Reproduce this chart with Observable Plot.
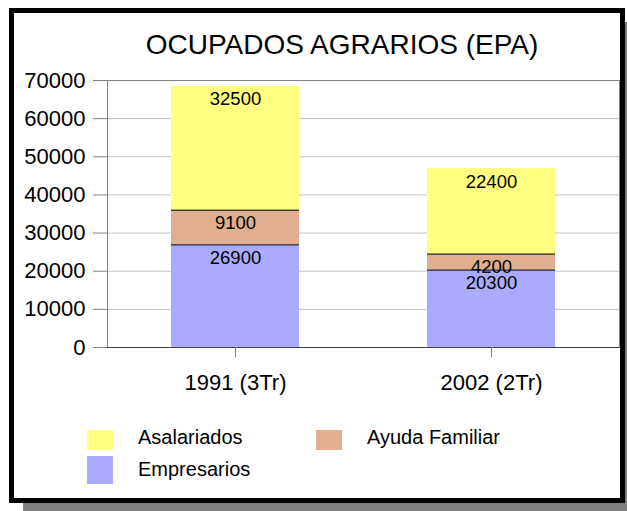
<!DOCTYPE html>
<html>
<head>
<meta charset="utf-8">
<script src="https://cdn.jsdelivr.net/npm/d3@7"></script>
<script src="https://cdn.jsdelivr.net/npm/@observablehq/plot@0.6"></script>
<style>
  html, body { margin: 0; padding: 0; background: #fff; }
  #root { position: relative; width: 627px; height: 511px; overflow: hidden; font-family: "Liberation Sans", Arial, sans-serif; color: #000; }
  .abs { position: absolute; }
  .txt { position: absolute; white-space: nowrap; line-height: 1; }
</style>
</head>
<body>
<div id="root">
  <div class="abs" style="left:23px; top:503px; width:604px; height:8px; background:#808080;"></div>
  <div class="abs" style="left:625px; top:22px; width:2px; height:489px; background:#808080;"></div>
  <div class="abs" style="left:9px; top:8px; width:616px; height:495px; border:5px solid #000; box-sizing:border-box; background:#fff;"></div>
  <div id="title" class="txt" style="left:0; width:684px; text-align:center; top:31px; font-size:28px;"></div>
  <div id="chart" class="abs" style="left:0; top:70px;"></div>
  <div id="legend"></div>
</div>
<script>
const categories = ["1991 (3Tr)", "2002 (2Tr)"];
const series = ["Empresarios", "Ayuda Familiar", "Asalariados"];
const empresarios = [26900, 20300];
const ayudaFamiliar = [9100, 4200];
const asalariados = [32500, 22400];
const yTicks = [0, 10000, 20000, 30000, 40000, 50000, 60000, 70000];
const colors = ["#AAAAFF", "#DFAF8F", "#FFFF80"];
const titleText = "OCUPADOS AGRARIOS (EPA)";

const values = [empresarios, ayudaFamiliar, asalariados];
const data = [];
series.forEach((s, si) => categories.forEach((c, ci) => data.push({cat: c, series: s, value: values[si][ci]})));

document.getElementById("title").textContent = titleText;

const chart = Plot.plot({
  width: 627,
  height: 330,
  marginTop: 10,
  marginBottom: 53,
  marginLeft: 107,
  marginRight: 8,
  style: {fontFamily: "'Liberation Sans', Arial, sans-serif", fontSize: "22px", background: "transparent", color: "#000", overflow: "visible"},
  x: {domain: categories, paddingInner: 0.5, paddingOuter: 0.25, label: null},
  y: {domain: [0, 70000], label: null},
  color: {domain: series, range: colors},
  marks: [
    Plot.gridY(yTicks, {stroke: "#c0c0c0", strokeOpacity: 1}),
    Plot.frame({stroke: "#808080"}),
    Plot.barY(data, Plot.stackY({x: "cat", y: "value", fill: "series", order: null})),
    Plot.tickY(data, Plot.stackY2({x: "cat", y: "value", order: null, filter: d => d.series !== "Asalariados", stroke: "#000", strokeWidth: 1})),
    Plot.ruleY([0], {stroke: "#404040"}),
    Plot.text(data, Plot.stackY2({x: "cat", y: "value", order: null, text: d => String(d.value), lineAnchor: "top", dy: 6, fontSize: 18.5, fill: "#000"})),
    Plot.axisY(yTicks, {tickSize: 14, tickPadding: 8, fontSize: 22, stroke: "#808080", fill: "#000", tickFormat: d => String(d), label: null}),
    Plot.axisX({tickSize: 10, tickPadding: 17, fontSize: 22, stroke: "#808080", fill: "#000", label: null})
  ]
});
document.getElementById("chart").appendChild(chart);

// Legend (HTML)
const legend = document.getElementById("legend");
const legendItems = [
  {name: "Asalariados", color: colors[2], sx: 87, sy: 430, sw: 26, sh: 20, tx: 138, ty: 427},
  {name: "Ayuda Familiar", color: colors[1], sx: 316, sy: 430, sw: 26, sh: 20, tx: 367, ty: 427},
  {name: "Empresarios", color: colors[0], sx: 87, sy: 456, sw: 26, sh: 28, tx: 138, ty: 459}
];
for (const it of legendItems) {
  const sw = document.createElement("div");
  sw.className = "abs";
  sw.style.cssText = `left:${it.sx}px;top:${it.sy}px;width:${it.sw}px;height:${it.sh}px;background:${it.color};`;
  legend.appendChild(sw);
  const t = document.createElement("div");
  t.className = "txt";
  t.style.cssText = `left:${it.tx}px;top:${it.ty}px;font-size:20px;`;
  t.textContent = it.name;
  legend.appendChild(t);
}
</script>
</body>
</html>
